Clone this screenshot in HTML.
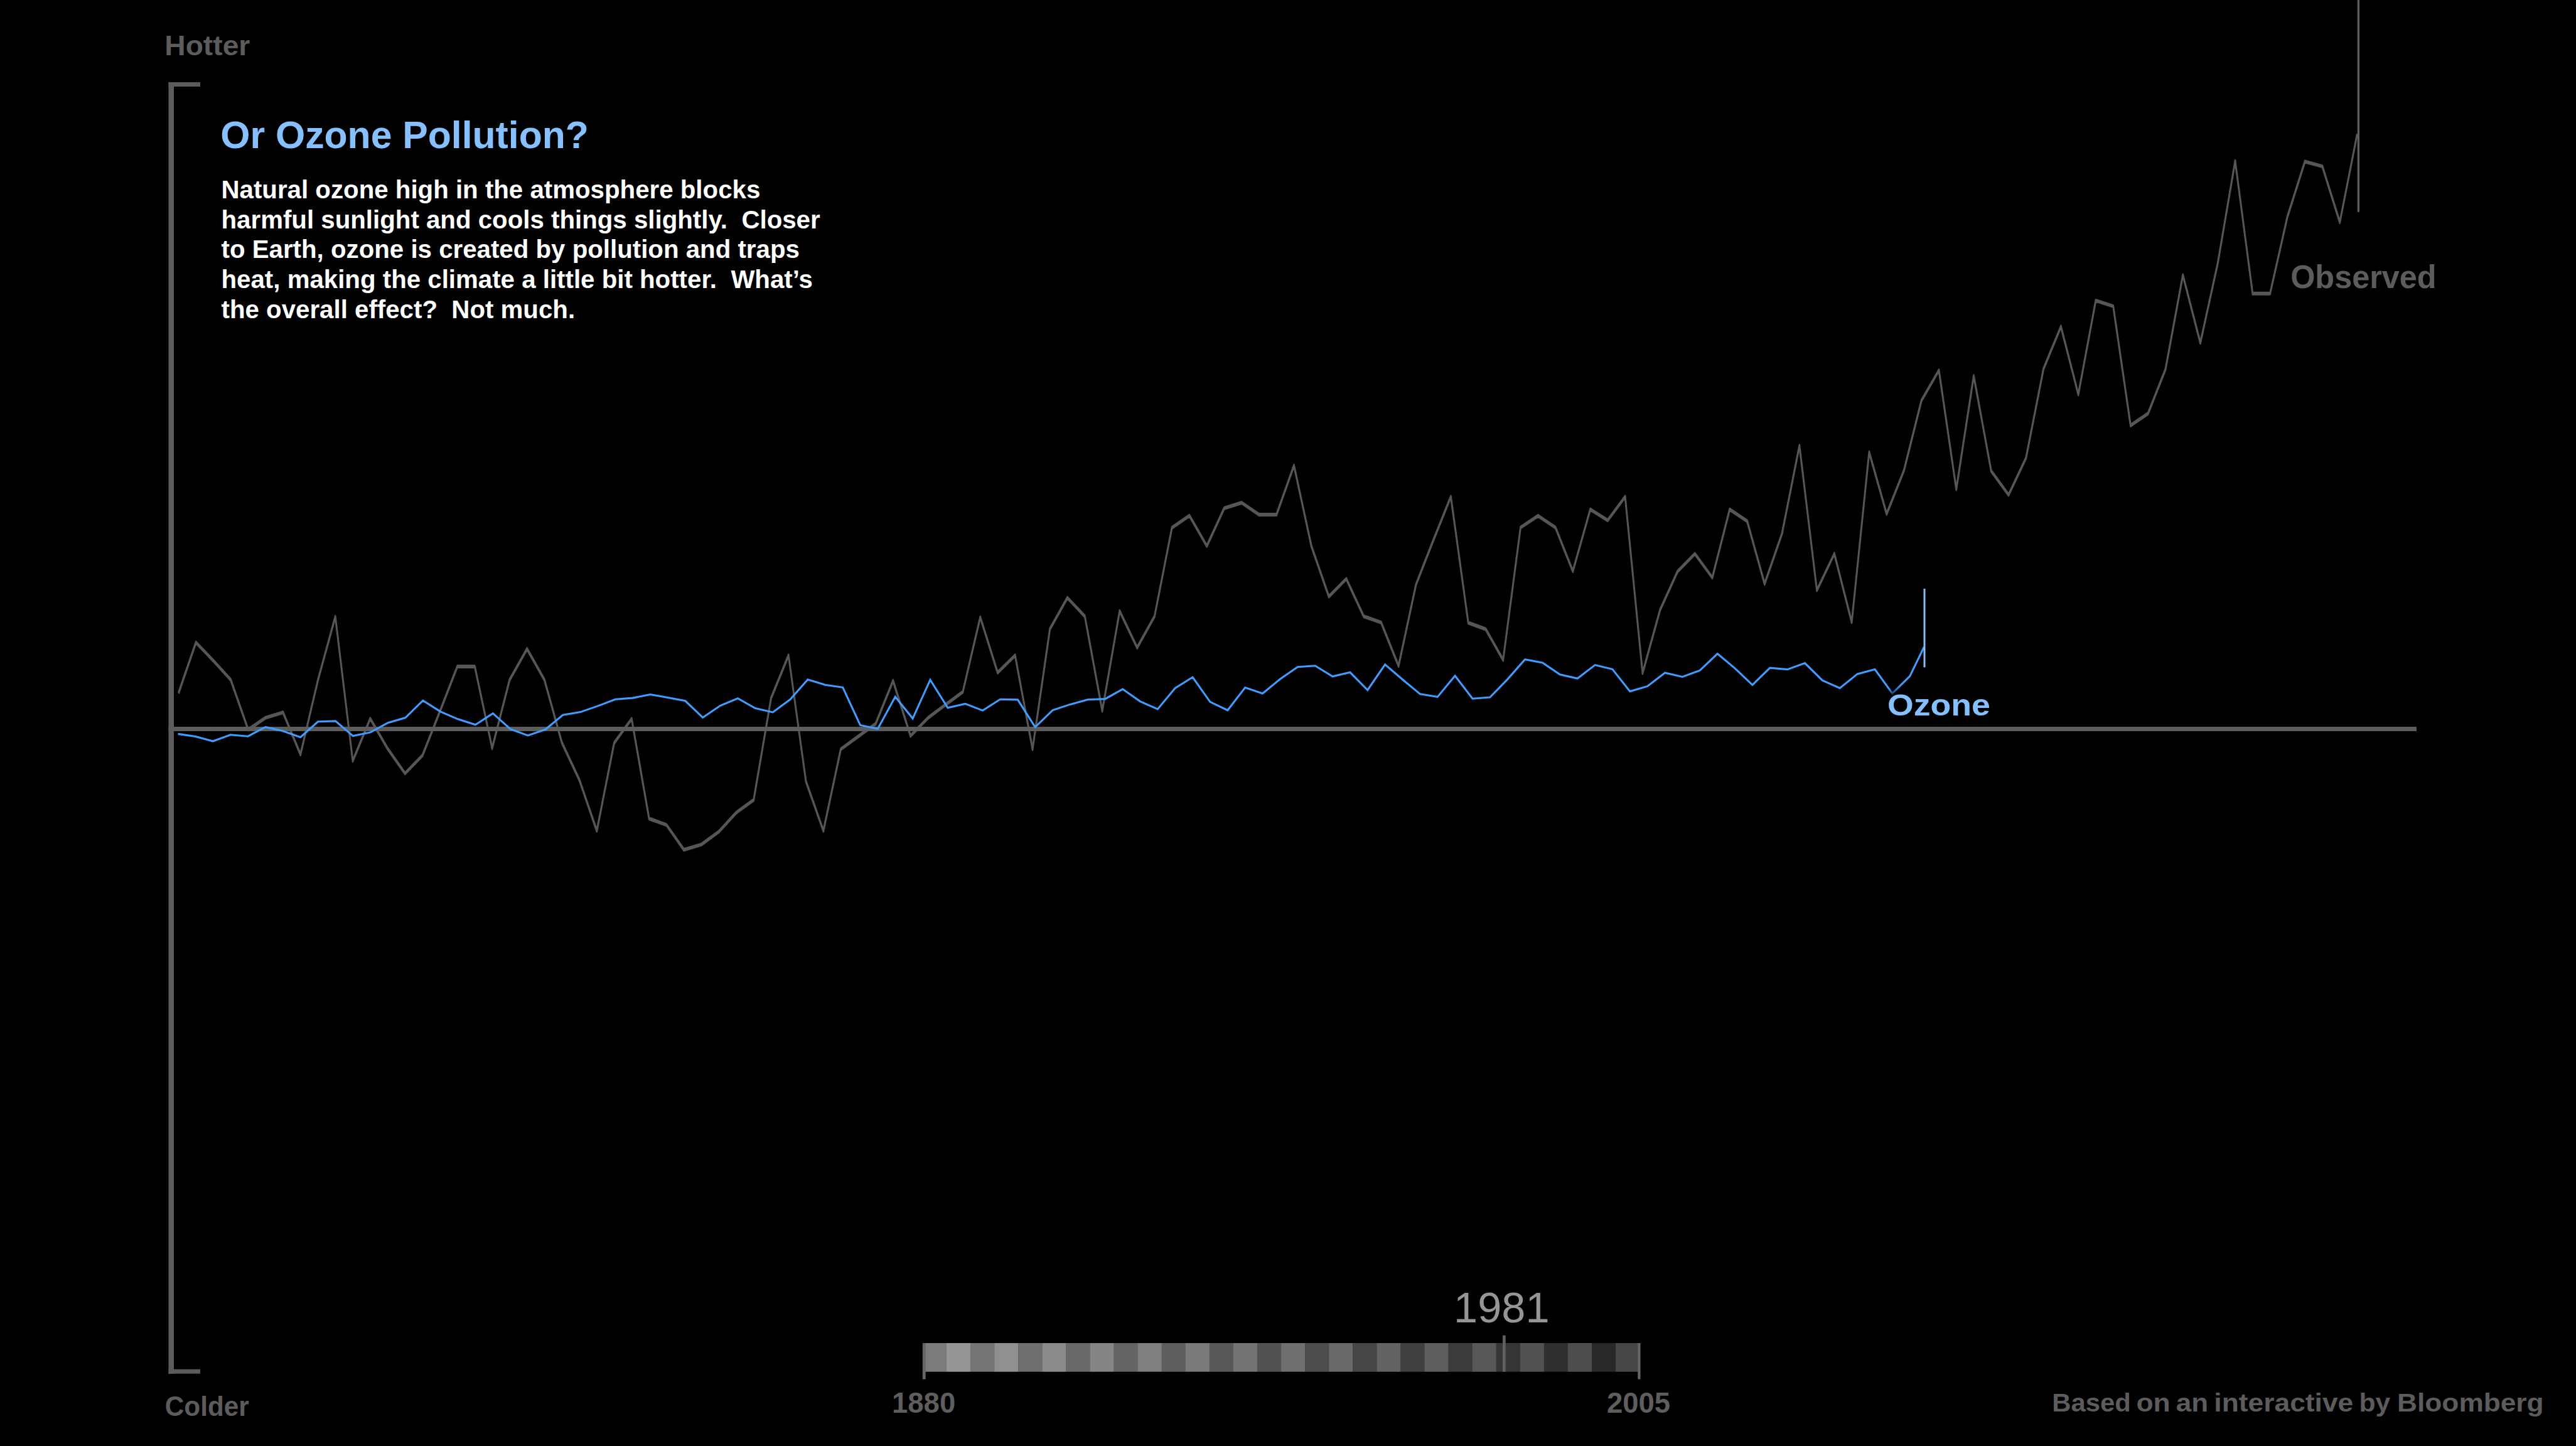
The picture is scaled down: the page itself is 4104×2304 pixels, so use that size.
<!DOCTYPE html>
<html lang="en"><head><meta charset="utf-8"><title>Or Ozone Pollution?</title>
<style>
html,body{margin:0;padding:0;background:#000;}
body{width:4104px;height:2304px;overflow:hidden;position:relative;}
svg{position:absolute;left:0;top:0;display:block;}
text{font-family:"Liberation Sans",sans-serif;white-space:pre;}
.lab{font-weight:bold;fill:#5c5c5c;}
.title{font-weight:bold;fill:#86c0fe;font-size:60.7px;}
.body{font-weight:bold;fill:#fff;font-size:40.25px;}
.yr{font-weight:bold;fill:#5e5e5e;font-size:45.5px;}
.cur{fill:#959595;font-size:68.5px;}
.hc{font-size:43.6px;}
.obs{font-size:52px;}
.cred{font-size:40px;}
.oz{font-weight:bold;fill:#86bffd;font-size:47.8px;}
</style></head><body>
<svg width="4104" height="2304" viewBox="0 0 4104 2304">
<defs><filter id="glow" x="-20%" y="-50%" width="140%" height="200%"><feGaussianBlur stdDeviation="6"/></filter></defs>
<rect width="4104" height="2304" fill="#000"/>
<g transform="scale(1,2.0)"><polyline points="284.3,552.35 312.1,511.85 339.8,526.35 367.6,541.60 395.4,581.30 423.1,571.80 450.9,567.55 478.7,601.10 506.5,541.90 534.2,491.30 562.0,606.20 589.8,572.55 617.5,596.40 645.3,616.20 673.1,601.85 700.8,566.80 728.6,531.00 756.4,531.00 784.1,596.10 811.9,541.60 839.7,517.00 867.4,541.60 895.2,591.70 923.0,621.30 950.8,661.90 978.5,591.85 1006.3,572.70 1034.1,652.10 1061.8,657.20 1089.6,677.00 1117.4,672.80 1145.1,662.65 1172.9,647.40 1200.7,637.30 1228.4,556.35 1256.2,522.10 1284.0,622.50 1311.8,661.90 1339.5,596.85 1367.3,586.70 1395.1,576.60 1422.8,542.35 1450.6,586.30 1478.4,571.95 1506.1,561.50 1533.9,551.25 1561.7,491.75 1589.4,535.85 1617.2,522.10 1645.0,596.90 1672.7,501.10 1700.5,476.20 1728.3,491.00 1756.1,566.30 1783.8,486.80 1811.6,515.95 1839.4,491.00 1867.1,420.45 1894.9,410.80 1922.7,434.95 1950.4,404.90 1978.2,400.50 2006.0,410.05 2033.7,410.05 2061.5,370.85 2089.3,435.15 2117.1,475.25 2144.8,461.15 2172.6,491.00 2200.4,495.95 2228.1,530.60 2255.9,465.75 2283.7,430.20 2311.4,395.70 2339.2,496.15 2367.0,501.25 2394.7,525.80 2422.5,420.25 2450.3,410.95 2478.1,420.25 2505.8,455.05 2533.6,405.80 2561.4,414.55 2589.1,395.70 2616.9,536.25 2644.7,486.05 2672.4,455.45 2700.2,441.15 2728.0,460.20 2755.7,405.80 2783.5,415.15 2811.3,465.15 2839.0,425.20 2866.8,355.05 2894.6,470.25 2922.4,441.15 2950.1,495.70 2977.9,360.25 3005.7,409.40 3033.4,374.70 3061.2,319.10 3089.0,295.05 3116.7,389.70 3144.5,299.55 3172.3,375.25 3200.0,394.25 3227.8,364.85 3255.6,293.90 3283.4,260.15 3311.1,314.25 3338.9,239.45 3366.7,243.95 3394.4,338.95 3422.2,329.45 3450.0,294.20 3477.7,219.15 3505.5,273.20 3533.3,209.60 3561.0,128.35 3588.8,233.90 3616.6,233.90 3644.3,172.55 3672.1,128.70 3699.9,132.55 3727.7,177.10 3755.4,106.80" fill="none" stroke="#565656" stroke-width="3" stroke-linejoin="round" stroke-linecap="butt"/></g>
<rect x="3755.7" y="0" width="3.3" height="337.8" fill="#5e5e5e"/>
<rect x="268.5" y="131" width="8.5" height="2058" fill="#5c5c5c"/>
<rect x="268.5" y="131" width="50.5" height="7" fill="#5c5c5c"/>
<rect x="268.5" y="2181.7" width="50.5" height="7" fill="#5c5c5c"/>
<rect x="268.5" y="1158" width="3581.5" height="7" fill="#5c5c5c"/>
<polyline points="283.6,1169.4 311.5,1173.5 339.3,1181.0 367.2,1170.7 395.1,1173.2 423.0,1158.5 450.8,1164.8 478.7,1174.7 506.6,1149.8 534.4,1148.9 562.3,1172.6 590.2,1166.9 618.0,1151.7 645.9,1143.6 673.8,1116.2 701.7,1133.9 729.5,1145.8 757.4,1154.8 785.3,1136.7 813.1,1161.6 841.0,1171.9 868.9,1162.3 896.7,1139.2 924.6,1134.6 952.5,1124.9 980.4,1114.3 1008.2,1112.1 1036.1,1106.5 1064.0,1111.5 1091.8,1116.8 1119.7,1143.3 1147.6,1124.3 1175.4,1112.7 1203.3,1128.6 1231.2,1134.9 1259.1,1114.3 1286.9,1082.8 1314.8,1091.3 1342.7,1095.3 1370.5,1155.4 1398.4,1161.3 1426.3,1110.2 1454.1,1144.8 1482.0,1083.2 1509.9,1127.7 1537.8,1121.4 1565.6,1132.1 1593.5,1114.3 1621.4,1114.9 1649.2,1158.5 1677.1,1131.6 1705.0,1122.4 1732.8,1114.7 1760.7,1113.6 1788.6,1098.1 1816.5,1117.6 1844.3,1129.9 1872.2,1096.4 1900.1,1079.0 1927.9,1118.4 1955.8,1131.7 1983.7,1095.5 2011.5,1104.9 2039.4,1082.1 2067.3,1062.7 2095.2,1060.8 2123.0,1077.8 2150.9,1071.3 2178.8,1099.5 2206.6,1058.9 2234.5,1082.8 2262.4,1105.9 2290.2,1110.4 2318.1,1076.8 2346.0,1113.2 2373.8,1111.0 2401.7,1082.4 2429.6,1050.8 2457.5,1056.0 2485.3,1074.7 2513.2,1081.1 2541.1,1059.6 2568.9,1066.3 2596.8,1101.6 2624.7,1093.4 2652.6,1072.0 2680.4,1078.5 2708.3,1068.1 2736.2,1041.6 2764.0,1064.8 2791.9,1091.3 2819.8,1064.1 2847.6,1066.6 2875.5,1056.6 2903.4,1084.2 2931.2,1096.5 2959.1,1073.9 2987.0,1066.6 3014.9,1104.8 3042.7,1077.4 3065.4,1030.7" fill="none" stroke="#409cff" stroke-width="3.1" stroke-linejoin="miter" stroke-miterlimit="3" stroke-linecap="butt"/>
<rect x="3064.5" y="938" width="3" height="125.3" fill="#86bdf7"/>
<g filter="url(#glow)" fill="#000" stroke="#000" stroke-width="12" stroke-linejoin="round"><text id="ozs" class="oz" x="3007" y="1140.1" text-anchor="start" textLength="163.7" lengthAdjust="spacingAndGlyphs" style="fill:#000" xml:space="preserve">Ozone</text></g>
<text id="oz" class="oz" x="3007" y="1140.1" text-anchor="start" textLength="163.7" lengthAdjust="spacingAndGlyphs" xml:space="preserve">Ozone</text>
<text id="obs" class="lab obs" x="3649.2" y="459" text-anchor="start" textLength="232.4" lengthAdjust="spacingAndGlyphs" xml:space="preserve">Observed</text>
<text id="hot" class="lab hc" x="262.3" y="87.9" text-anchor="start" textLength="136" lengthAdjust="spacingAndGlyphs" xml:space="preserve">Hotter</text>
<text id="cold" class="lab hc" x="262.8" y="2256.2" text-anchor="start" textLength="134" lengthAdjust="spacingAndGlyphs" xml:space="preserve">Colder</text>
<text id="title" class="title" x="351.3" y="236" text-anchor="start" xml:space="preserve">Or Ozone Pollution?</text>
<text id="b0" class="body" x="352.5" y="315.90000000000003" text-anchor="start" xml:space="preserve">Natural ozone high in the atmosphere blocks</text><text id="b1" class="body" x="352.5" y="363.8" text-anchor="start" xml:space="preserve">harmful sunlight and cools things slightly.  Closer</text><text id="b2" class="body" x="352.5" y="411.40000000000003" text-anchor="start" xml:space="preserve">to Earth, ozone is created by pollution and traps</text><text id="b3" class="body" x="352.5" y="459.3" text-anchor="start" xml:space="preserve">heat, making the climate a little bit hotter.  What’s</text><text id="b4" class="body" x="352.5" y="506.90000000000003" text-anchor="start" xml:space="preserve">the overall effect?  Not much.</text>
<rect x="1470.00" y="2140" width="38.37" height="45.7" fill="rgb(123,123,123)"/>
<rect x="1508.07" y="2140" width="38.37" height="45.7" fill="rgb(150,150,150)"/>
<rect x="1546.14" y="2140" width="38.37" height="45.7" fill="rgb(117,117,117)"/>
<rect x="1584.21" y="2140" width="38.37" height="45.7" fill="rgb(144,144,144)"/>
<rect x="1622.28" y="2140" width="38.37" height="45.7" fill="rgb(111,111,111)"/>
<rect x="1660.35" y="2140" width="38.37" height="45.7" fill="rgb(139,139,139)"/>
<rect x="1698.42" y="2140" width="38.37" height="45.7" fill="rgb(105,105,105)"/>
<rect x="1736.49" y="2140" width="38.37" height="45.7" fill="rgb(133,133,133)"/>
<rect x="1774.56" y="2140" width="38.37" height="45.7" fill="rgb(100,100,100)"/>
<rect x="1812.63" y="2140" width="38.37" height="45.7" fill="rgb(127,127,127)"/>
<rect x="1850.70" y="2140" width="38.37" height="45.7" fill="rgb(94,94,94)"/>
<rect x="1888.77" y="2140" width="38.37" height="45.7" fill="rgb(122,122,122)"/>
<rect x="1926.84" y="2140" width="38.37" height="45.7" fill="rgb(88,88,88)"/>
<rect x="1964.91" y="2140" width="38.37" height="45.7" fill="rgb(116,116,116)"/>
<rect x="2002.98" y="2140" width="38.37" height="45.7" fill="rgb(82,82,82)"/>
<rect x="2041.05" y="2140" width="38.37" height="45.7" fill="rgb(111,111,111)"/>
<rect x="2079.12" y="2140" width="38.37" height="45.7" fill="rgb(76,76,76)"/>
<rect x="2117.19" y="2140" width="38.37" height="45.7" fill="rgb(105,105,105)"/>
<rect x="2155.26" y="2140" width="38.37" height="45.7" fill="rgb(70,70,70)"/>
<rect x="2193.33" y="2140" width="38.37" height="45.7" fill="rgb(99,99,99)"/>
<rect x="2231.40" y="2140" width="38.37" height="45.7" fill="rgb(64,64,64)"/>
<rect x="2269.47" y="2140" width="38.37" height="45.7" fill="rgb(94,94,94)"/>
<rect x="2307.54" y="2140" width="38.37" height="45.7" fill="rgb(59,59,59)"/>
<rect x="2345.61" y="2140" width="38.37" height="45.7" fill="rgb(88,88,88)"/>
<rect x="2383.68" y="2140" width="38.37" height="45.7" fill="rgb(53,53,53)"/>
<rect x="2421.75" y="2140" width="38.37" height="45.7" fill="rgb(82,82,82)"/>
<rect x="2459.82" y="2140" width="38.37" height="45.7" fill="rgb(47,47,47)"/>
<rect x="2497.89" y="2140" width="38.37" height="45.7" fill="rgb(77,77,77)"/>
<rect x="2535.96" y="2140" width="38.37" height="45.7" fill="rgb(41,41,41)"/>
<rect x="2574.03" y="2140" width="38.37" height="45.7" fill="rgb(71,71,71)"/>
<rect x="1469.8" y="2140" width="4.9" height="57.6" fill="#666"/>
<rect x="2609.3" y="2140" width="4.2" height="57.6" fill="#666"/>
<rect x="2394" y="2127.7" width="4.7" height="58" fill="#606060"/>
<text id="cur" class="cur" x="2392.3" y="2106.8" text-anchor="middle" xml:space="preserve">1981</text>
<text id="y1" class="yr" x="1471.6" y="2250.8" text-anchor="middle" xml:space="preserve">1880</text>
<text id="y2" class="yr" x="2610.5" y="2250.8" text-anchor="middle" xml:space="preserve">2005</text>
<text id="cred" class="lab cred" y="2249.4" xml:space="preserve"><tspan x="3269.2" textLength="125.5" lengthAdjust="spacingAndGlyphs">Based</tspan><tspan> </tspan><tspan x="3403.4" textLength="54.3" lengthAdjust="spacingAndGlyphs">on</tspan><tspan> </tspan><tspan x="3466.8" textLength="51.4" lengthAdjust="spacingAndGlyphs">an</tspan><tspan> </tspan><tspan x="3527.3" textLength="222.0" lengthAdjust="spacingAndGlyphs">interactive</tspan><tspan> </tspan><tspan x="3758.5" textLength="49.8" lengthAdjust="spacingAndGlyphs">by</tspan><tspan> </tspan><tspan x="3819.1" textLength="233.5" lengthAdjust="spacingAndGlyphs">Bloomberg</tspan></text>
</svg>
</body></html>
